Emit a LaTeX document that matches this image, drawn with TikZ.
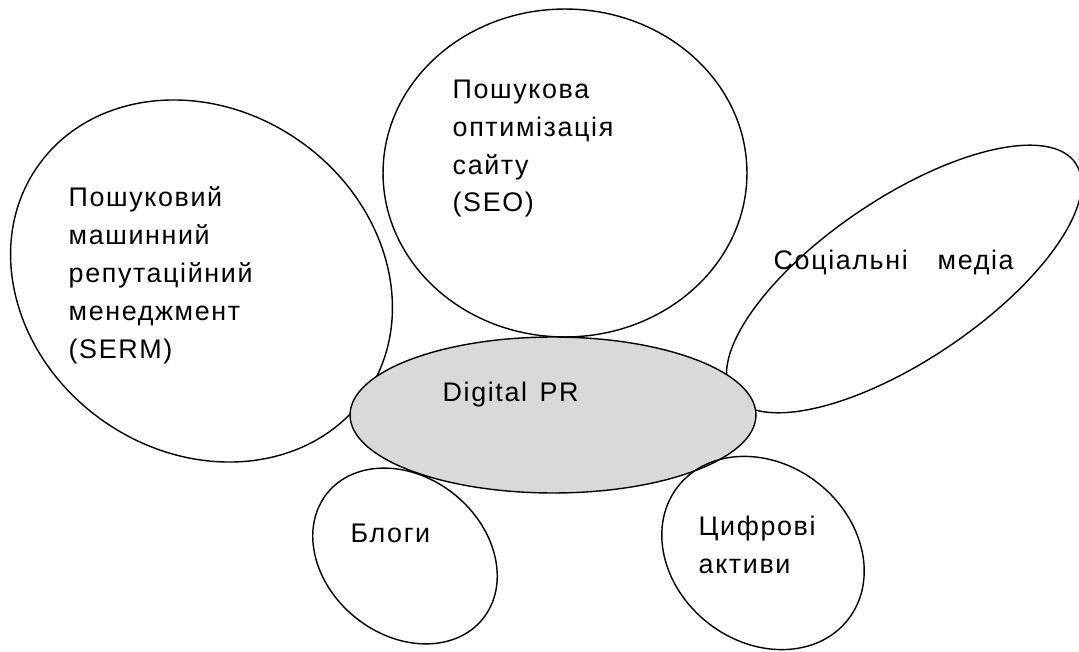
\documentclass[tikz,border=0pt]{standalone}
\usepackage{fontspec}
\setmainfont{Liberation Sans}[LetterSpace=6]
\usepackage{tikz}
\usetikzlibrary{shapes.geometric,positioning}

\begin{document}
\begin{tikzpicture}[x=0.02cm, y=-0.02cm, line width=0.8pt, font=\fontsize{15.3}{21.6}\selectfont]
		\tikzstyle{bubble}=[ellipse,draw=black,inner sep=0pt]
		\tikzstyle{caption}=[anchor=base west,inner sep=0pt,align=left,text=black]

		\useasboundingbox (0,0) rectangle (1079,652);

		\node[bubble,minimum width=8cm,minimum height=6.84cm,rotate=-35] (serm) at (201.5,281) {};
		\node[bubble,minimum width=7.28cm,minimum height=6.56cm] (seo) at (565,173) {};
		\node[bubble,minimum width=8.28cm,minimum height=3.24cm,rotate=34] (social) at (904,279) {};
		\node[bubble,fill=black!15,minimum width=8.12cm,minimum height=3.12cm] (dpr) at (553,415) {};
		\node[bubble,minimum width=4cm,minimum height=3.16cm,rotate=-39] (blogs) at (405,556) {};
		\node[bubble,minimum width=4.32cm,minimum height=3.56cm,rotate=-38] (assets) at (763,553) {};

		\node[caption] (sermtext) at (68,358) {Пошуковий\\машинний\\репутаційний\\менеджмент\\(SERM)};
		\node[caption] (seotext) at (452,212) {Пошукова\\оптимізація\\сайту\\(SEO)};
		\node[caption] (socialtext) at (773,269) {Соціальні\hspace{0.6cm}медіа};
		\node[caption] (dprtext) at (442,401) {Digital\hspace{0.25cm}PR};
		\node[caption] (blogstext) at (350,542) {Блоги};
		\node[caption] (assetstext) at (698,573) {Цифрові\\активи};
	\end{tikzpicture}
\end{document}
